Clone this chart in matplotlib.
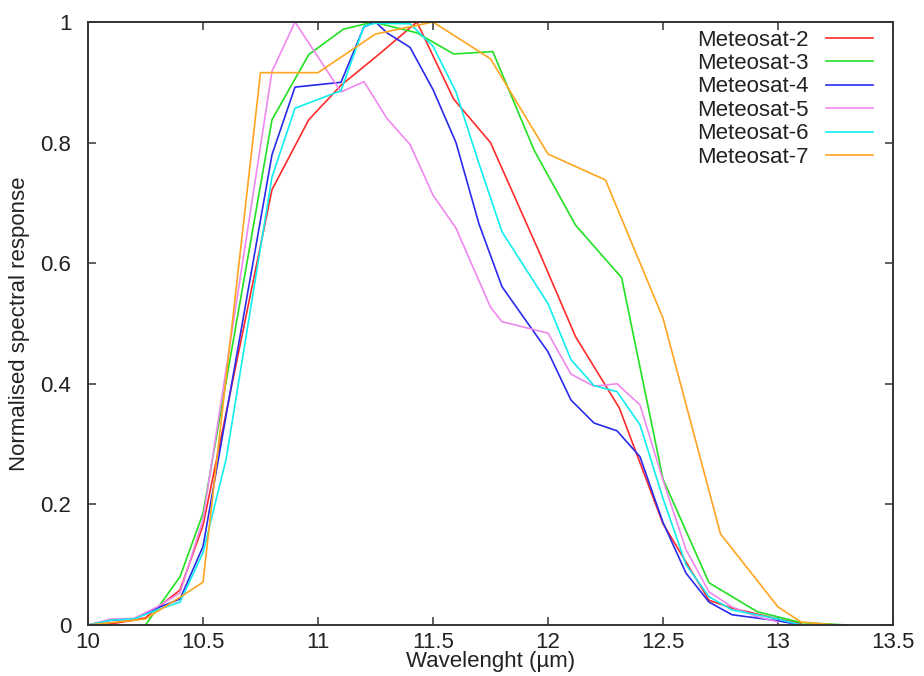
import matplotlib
matplotlib.use("Agg")
import matplotlib.pyplot as plt

plt.rcParams['font.family'] = ['Liberation Sans', 'DejaVu Sans']

# Meteosat-2
x2 = [10.0, 10.1, 10.2, 10.25, 10.3, 10.4, 10.5, 10.8, 10.96, 11.1, 11.27, 11.43, 11.59, 11.75,
      11.96, 12.12, 12.31, 12.5, 12.7, 12.8, 13.0, 13.1]
y2 = [0.0, 0.002, 0.008, 0.012, 0.028, 0.058, 0.165, 0.722, 0.838, 0.895, 0.948, 1.0, 0.872, 0.80,
      0.62, 0.478, 0.36, 0.168, 0.041, 0.028, 0.01, 0.003]
# Meteosat-3
x3 = [10.25, 10.4, 10.5, 10.8, 10.96, 11.11, 11.24, 11.43, 11.59, 11.76, 11.94, 12.12, 12.32,
      12.5, 12.7, 12.91, 13.1, 13.3]
y3 = [0.0, 0.08, 0.185, 0.838, 0.946, 0.988, 1.0, 0.982, 0.947, 0.951, 0.787, 0.663, 0.576,
      0.242, 0.07, 0.022, 0.004, 0.0]
# Meteosat-4
x4 = [10.0, 10.1, 10.2, 10.3, 10.4, 10.5, 10.8, 10.9, 11.1, 11.2, 11.25, 11.3, 11.4, 11.5, 11.6,
      11.7, 11.8, 12.0, 12.1, 12.2, 12.3, 12.4, 12.5, 12.6, 12.7, 12.8, 13.0, 13.1]
y4 = [0.0, 0.008, 0.01, 0.028, 0.043, 0.13, 0.78, 0.892, 0.9, 0.992, 1.0, 0.982, 0.958, 0.888, 0.80,
      0.665, 0.561, 0.453, 0.373, 0.335, 0.322, 0.279, 0.17, 0.086, 0.038, 0.017, 0.007, 0.0]
# Meteosat-5
x5 = [10.0, 10.1, 10.2, 10.3, 10.4, 10.5, 10.8, 10.9, 11.1, 11.2, 11.3, 11.4, 11.5, 11.6, 11.75,
      11.8, 12.0, 12.1, 12.2, 12.3, 12.4, 12.5, 12.6, 12.7, 12.8, 12.9, 13.0]
y5 = [0.0, 0.01, 0.011, 0.03, 0.053, 0.175, 0.918, 1.0, 0.884, 0.901, 0.84, 0.797, 0.713, 0.658, 0.527,
      0.503, 0.484, 0.416, 0.396, 0.40, 0.365, 0.24, 0.125, 0.055, 0.03, 0.015, 0.005]
# Meteosat-6
x6 = [10.0, 10.1, 10.2, 10.3, 10.4, 10.5, 10.6, 10.8, 10.9, 11.1, 11.2, 11.25, 11.4, 11.5, 11.6,
      11.7, 11.8, 12.0, 12.1, 12.2, 12.3, 12.4, 12.5, 12.6, 12.7, 12.8, 13.0, 13.1]
y6 = [0.0, 0.008, 0.01, 0.025, 0.038, 0.12, 0.274, 0.743, 0.857, 0.886, 0.993, 0.998, 0.997, 0.96, 0.884,
      0.765, 0.652, 0.533, 0.44, 0.397, 0.387, 0.332, 0.21, 0.1, 0.047, 0.025, 0.01, 0.0]
# Meteosat-7
x7 = [10.0, 10.25, 10.4, 10.5, 10.75, 11.0, 11.25, 11.5, 11.75, 12.0, 12.25, 12.5, 12.75, 13.0,
      13.1, 13.25]
y7 = [0.0, 0.01, 0.046, 0.071, 0.916, 0.916, 0.98, 1.0, 0.939, 0.781, 0.738, 0.509, 0.151, 0.03,
      0.005, 0.0]

labels = ["Meteosat-2", "Meteosat-3", "Meteosat-4", "Meteosat-5", "Meteosat-6", "Meteosat-7"]
colors = ["#ff2a2a", "#22e022", "#2a2aee", "#ee88ee", "#11eeee", "#ffa520"]
xticks = [10, 10.5, 11, 11.5, 12, 12.5, 13, 13.5]
xticklabels = ["10", "10.5", "11", "11.5", "12", "12.5", "13", "13.5"]
yticks = [0, 0.2, 0.4, 0.6, 0.8, 1]
yticklabels = ["0", "0.2", "0.4", "0.6", "0.8", "1"]

FS = 16
TXT = '#222222'

fig = plt.figure(figsize=(9.24, 6.76), dpi=100)
ax = fig.add_axes([88/924, 1-625/676, (893-88)/924, (625-22)/676])

series = [(x2, y2), (x3, y3), (x4, y4), (x5, y5), (x6, y6), (x7, y7)]
for (xs, ys), lab, c in zip(series, labels, colors):
    ax.plot(xs, ys, color=c, lw=1.2, label=lab)

ax.set_xlim(10, 13.5)
ax.set_ylim(0, 1)
ax.set_xticks(xticks)
ax.set_xticklabels(xticklabels)
ax.set_yticks(yticks)
ax.set_yticklabels(yticklabels)
ax.tick_params(direction='in', length=6, width=1.2, color='#444444', top=True, right=True,
               labelsize=FS, labelcolor=TXT)
ax.tick_params(axis='x', pad=5)
ax.tick_params(axis='y', pad=12)
for s in ax.spines.values():
    s.set_linewidth(1.4)
    s.set_color('#333333')

ax.set_xlabel("Wavelenght (µm)", fontsize=FS, color=TXT)
ax.xaxis.label.set_va('center')
ax.xaxis.set_label_coords(0.5, -(662 - 625) / 603)
ax.set_ylabel("Normalised spectral response", fontsize=FS, color=TXT)
ax.yaxis.label.set_va('center')
ax.yaxis.set_label_coords(-(88 - 20) / 805, 0.5)

leg = ax.legend(loc='upper right', bbox_to_anchor=((805 - 12) / 805, 1.0),
                markerfirst=False, frameon=False, fontsize=FS,
                handlelength=2.15, handletextpad=0.75, labelspacing=0.11,
                borderpad=0.0, borderaxespad=0.34)
for t in leg.get_texts():
    t.set_color(TXT)

fig.savefig("out.png", dpi=100)
